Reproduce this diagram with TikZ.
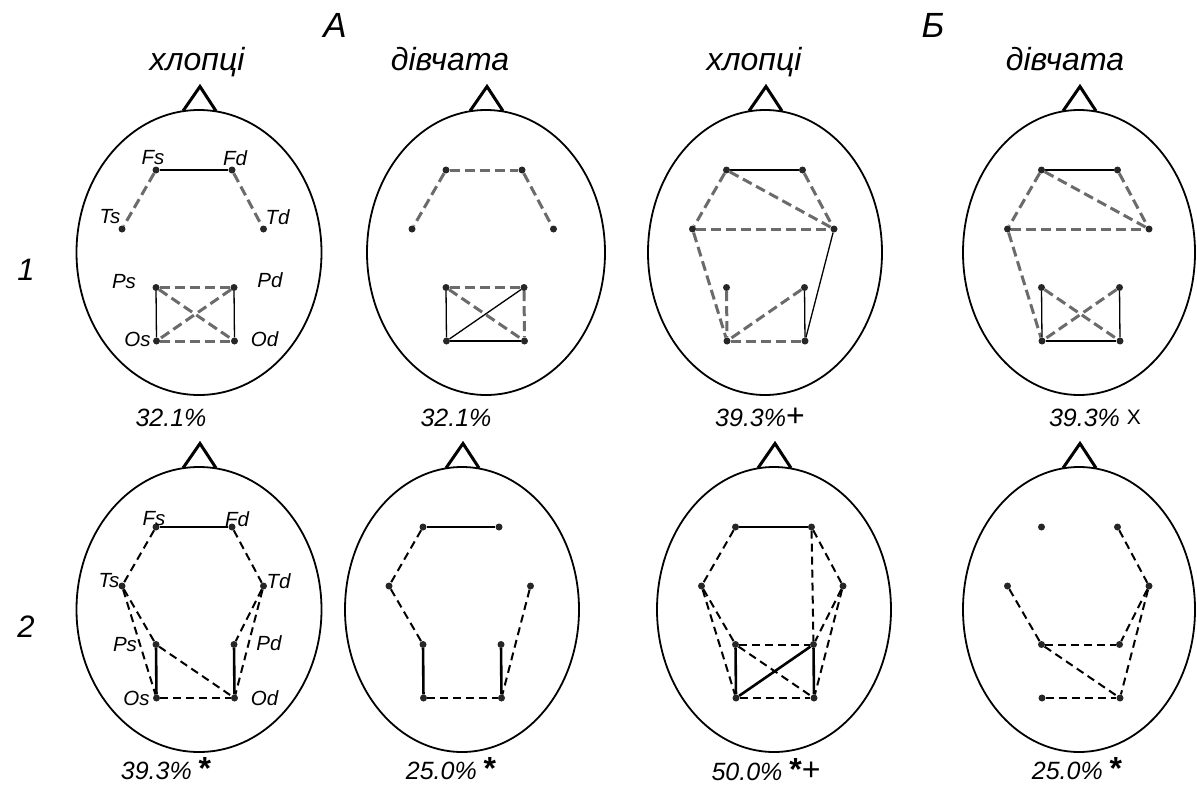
\documentclass[tikz,border=0pt]{standalone}
\usepackage{fontspec}
\setmainfont{Liberation Sans}
\usetikzlibrary{positioning}

% one head: #1 name, #2 centre x, #3 centre y, #4 x radius, #5 electrode centre x
\newcommand{\drawhead}[5]{%
  \draw[headline] (#2,#3) ellipse [x radius=#4, y radius=142.5];
  \draw[nose] (#2-16,#3-141.5) -- (#2+1,#3-166) -- (#2+17,#3-141.5);
  \node[elec] (#1Fs) at (#5-38.5,#3-82.5) {};
  \node[elec] (#1Fd) at (#5+37.5,#3-82.5) {};
  \node[elec] (#1Ts) at (#5-72.5,#3-23.5) {};
  \node[elec] (#1Td) at (#5+69,#3-23.5) {};
  \node[elec] (#1Ps) at (#5-38.5,#3+35) {};
  \node[elec] (#1Pd) at (#5+39.5,#3+35) {};
  \node[elec] (#1Os) at (#5-38,#3+88.5) {};
  \node[elec] (#1Od) at (#5+40,#3+88.5) {};
}

\tikzset{
  headline/.style={line width=1.8pt},
  nose/.style={line width=3pt, line join=miter},
  elec/.style={circle, fill=black!85, inner sep=0pt, minimum size=7pt},
  elabel/.style={font=\fontsize{20.5}{23}\selectfont\itshape, inner sep=0pt},
  toplabel/.style={font=\fontsize{32}{38}\selectfont\itshape, inner sep=0pt, anchor=base},
  grouplabel/.style={font=\fontsize{35}{40}\selectfont\itshape, inner sep=0pt},
  rowlabel/.style={font=\fontsize{31}{36}\selectfont\itshape, inner sep=0pt},
  pct/.style={font=\fontsize{25}{30}\selectfont\itshape, inner sep=1pt, anchor=base},
  % row 1 connectors
  oneline/.style={line width=1.3pt},
  onedash/.style={line width=3pt, color=black!58, dash pattern=on 10pt off 5pt},
  % row 2 connectors
  twoline/.style={line width=2.6pt},
  twodash/.style={line width=2pt, dash pattern=on 8pt off 5pt},
}
\newcommand{\mystar}{{\upshape\bfseries\fontsize{32}{30}\selectfont *}}
\newcommand{\myplus}{{\upshape\fontsize{32}{30}\selectfont +}}
\newcommand{\mychi}{\raisebox{2pt}{\upshape\fontsize{21}{22}\selectfont X}}

\begin{document}
\begin{tikzpicture}[x=1pt, y=-1pt]
\useasboundingbox (0,0) rectangle (1197,787);

% titles
\node[grouplabel] (grA) at (335,25) {А};
\node[grouplabel] (grB) at (933,25) {Б};
\node[toplabel] (ta) at (197,70) {хлопці};
\node[toplabel] (tb) at (450,70) {дівчата};
\node[toplabel] (tc) at (754,70) {хлопці};
\node[toplabel] (td) at (1065,70) {дівчата};
\node[rowlabel] (row1) at (26,270) {1};
\node[rowlabel] (row2) at (26,627) {2};

% heads
\drawhead{a}{199}{252.5}{122.5}{194.5}
\drawhead{b}{486}{252.5}{119}{484.5}
\drawhead{c}{765}{252.5}{117}{765}
\drawhead{d}{1079}{252.5}{116}{1080}
\drawhead{e}{199}{609.5}{122.5}{194.5}
\drawhead{f}{462}{609.5}{117}{461.5}
\drawhead{g}{774}{609.5}{117}{774}
\drawhead{h}{1079}{609.5}{116}{1080}

% electrode names
\node[elabel] (la1) at ([xshift=-3pt,yshift=12pt]aFs) {Fs};
\node[elabel] (la2) at ([xshift=3pt,yshift=12pt]aFd) {Fd};
\node[elabel] (la3) at ([xshift=-12pt,yshift=12pt]aTs) {Ts};
\node[elabel] (la4) at ([xshift=14pt,yshift=12pt]aTd) {Td};
\node[elabel] (la5) at ([xshift=-32pt,yshift=6pt]aPs) {Ps};
\node[elabel] (la6) at ([xshift=36pt,yshift=7pt]aPd) {Pd};
\node[elabel] (la7) at ([xshift=-19pt,yshift=2pt]aOs) {Os};
\node[elabel] (la8) at ([xshift=30pt,yshift=2pt]aOd) {Od};
\node[elabel] (le1) at ([xshift=-2pt,yshift=8pt]eFs) {Fs};
\node[elabel] (le2) at ([xshift=5pt,yshift=8pt]eFd) {Fd};
\node[elabel] (le3) at ([xshift=-13pt,yshift=5pt]eTs) {Ts};
\node[elabel] (le4) at ([xshift=15pt,yshift=5pt]eTd) {Td};
\node[elabel] (le5) at ([xshift=-31pt]ePs) {Ps};
\node[elabel] (le6) at ([xshift=35pt,yshift=1pt]ePd) {Pd};
\node[elabel] (le7) at ([xshift=-20pt]eOs) {Os};
\node[elabel] (le8) at ([xshift=30pt]eOd) {Od};

% A, boys, row 1
\draw[oneline] (aFs) -- (aFd);
\draw[onedash] (aFs) -- (aTs);
\draw[onedash] (aFd) -- (aTd);
\draw[onedash] (aPs) -- (aPd);
\draw[onedash] (aOs) -- (aOd);
\draw[onedash] (aPs) -- (aOd);
\draw[onedash] (aPd) -- (aOs);
\draw[oneline] (aPs) -- (aOs);
\draw[oneline] (aPd) -- (aOd);

% A, girls, row 1
\draw[onedash] (bFs) -- (bFd);
\draw[onedash] (bFs) -- (bTs);
\draw[onedash] (bFd) -- (bTd);
\draw[onedash] (bPs) -- (bPd);
\draw[onedash] (bPs) -- (bOd);
\draw[onedash] (bPd) -- (bOd);
\draw[oneline] (bPs) -- (bOs);
\draw[oneline] (bOs) -- (bOd);
\draw[oneline] (bOs) -- (bPd);

% B, boys, row 1
\draw[oneline] (cFs) -- (cFd);
\draw[onedash] (cFs) -- (cTs);
\draw[onedash] (cFd) -- (cTd);
\draw[onedash] (cFs) -- (cTd);
\draw[onedash] (cTs) -- (cTd);
\draw[onedash] (cTs) -- (cOs);
\draw[onedash] (cPs) -- (cOs);
\draw[onedash] (cPd) -- (cOs);
\draw[onedash] (cOs) -- (cOd);
\draw[oneline] (cPd) -- (cOd);
\draw[oneline] (cTd) -- (cOd);

% B, girls, row 1
\draw[oneline] (dFs) -- (dFd);
\draw[onedash] (dFs) -- (dTs);
\draw[onedash] (dFd) -- (dTd);
\draw[onedash] (dFs) -- (dTd);
\draw[onedash] (dTs) -- (dTd);
\draw[onedash] (dTs) -- (dOs);
\draw[onedash] (dPs) -- (dOd);
\draw[onedash] (dPd) -- (dOs);
\draw[oneline] (dPs) -- (dOs);
\draw[oneline] (dPd) -- (dOd);
\draw[oneline] (dOs) -- (dOd);

% A, boys, row 2
\draw[twoline] (eFs) -- (eFd);
\draw[twodash] (eFs) -- (eTs);
\draw[twodash] (eFd) -- (eTd);
\draw[twodash] (eTs) -- (eOs);
\draw[twodash] (eTs) -- (ePs);
\draw[twodash] (ePs) -- (eOd);
\draw[twodash] (eTd) -- (ePd);
\draw[twodash] (eTd) -- (eOd);
\draw[twodash] (eOs) -- (eOd);
\draw[twoline] (ePs) -- (eOs);
\draw[twoline] (ePd) -- (eOd);

% A, girls, row 2
\draw[twoline] (fFs) -- (fFd);
\draw[twodash] (fFs) -- (fTs);
\draw[twodash] (fTs) -- (fPs);
\draw[twodash] (fTd) -- (fOd);
\draw[twodash] (fOs) -- (fOd);
\draw[twoline] (fPs) -- (fOs);
\draw[twoline] (fPd) -- (fOd);

% B, boys, row 2
\draw[twoline] (gFs) -- (gFd);
\draw[twodash] (gFs) -- (gTs);
\draw[twodash] (gFd) -- (gTd);
\draw[twodash] (gFd) -- (gPd);
\draw[twodash] (gTs) -- (gOs);
\draw[twodash] (gTs) -- (gPs);
\draw[twodash] (gPs) -- (gOd);
\draw[twodash] (gTd) -- (gPd);
\draw[twodash] (gTd) -- (gOd);
\draw[twodash] (gPs) -- (gPd);
\draw[twodash] (gOs) -- (gOd);
\draw[twoline] (gPs) -- (gOs);
\draw[twoline] (gPd) -- (gOd);
\draw[twoline] (gOs) -- (gPd);

% B, girls, row 2
\draw[twodash] (hFd) -- (hTd);
\draw[twodash] (hTs) -- (hPs);
\draw[twodash] (hPs) -- (hOd);
\draw[twodash] (hPs) -- (hPd);
\draw[twodash] (hTd) -- (hPd);
\draw[twodash] (hTd) -- (hOd);
\draw[twodash] (hOs) -- (hOd);

% percentages
\node[pct] (pa) at (171,426) {32.1\%};
\node[pct] (pb) at (456,426) {32.1\%};
\node[pct] (pc) at (760,426) {39.3\%\myplus};
\node[pct] (pd) at (1095,426) {39.3\% \mychi};
\node[pct] (pe) at (166,779) {39.3\% \mystar};
\node[pct] (pf) at (451,779) {25.0\% \mystar};
\node[pct] (pg) at (766,780) {50.0\% \mystar\myplus};
\node[pct] (ph) at (1077,779) {25.0\% \mystar};
\end{tikzpicture}
\end{document}
